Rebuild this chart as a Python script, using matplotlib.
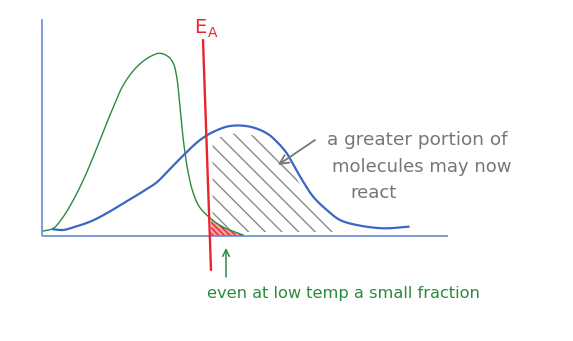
import numpy as np
import matplotlib
matplotlib.use("Agg")
import matplotlib.pyplot as plt

# ---- data (energy in arbitrary units, fraction of molecules in arbitrary units) ----
low_T_energy = [0.33, 2.83, 5.33, 7.83, 10.33, 12.83, 14.5, 17, 20.33, 23.67, 27,
                29.5, 31.58, 32.83, 33.67, 34.5, 35.33, 36.58, 37.83, 39.33, 42,
                45.25, 50.25]
low_T_fraction = [2.5, 3.85, 9.65, 18, 28, 39.65, 48, 60.5, 75.5, 84.5, 89.65,
                  91.35, 89.65, 86.35, 79.65, 64.65, 48, 31.35, 21.35, 14.65, 9,
                  4.5, 0.5]

high_T_energy = [2.83, 5.33, 7.83, 12, 16.17, 20.33, 24.5, 28.67, 31.17, 35.33, 39.5,
                 42.75, 47, 52, 56.2, 58.7, 61.2, 62.8, 65.3, 67.8, 71.2, 74.5,
                 78.7, 85.3, 91.6]
high_T_fraction = [3.35, 3, 4.35, 7.15, 11.35, 16.35, 21.35, 26.8, 31.8, 40.3, 48,
                   52, 55, 54.65, 51.35, 47.15, 41.35, 35.75, 27.15, 19.65, 13, 8,
                   5.5, 3.85, 4.65]

ea_line_x = [40.25, 42.25]
ea_line_y = [98, -17]
ea_label = "E"
ea_sub = "A"

axis_x_end = 101.5
axis_y_end = 108.5
hatch_end_energy = 76

note_high = ["a greater portion of", "molecules may now", "react"]
note_low = "even at low temp a small fraction"

GREEN = "#2B8A3E"
BLUE = "#3A66C4"
AXIS_BLUE = "#5A82CF"
RED = "#E8242C"
GRAY = "#767676"

# aspect: one x unit = 4 px, one y unit = 2 px -> smooth in pixel space
SX, SY = 4.0, 2.0


def smooth_curve(xs, ys, n=30, alpha=0.5):
    p = np.column_stack([np.asarray(xs, float) * SX, np.asarray(ys, float) * SY])
    p = np.vstack([2 * p[0] - p[1], p, 2 * p[-1] - p[-2]])
    out = []
    for i in range(1, len(p) - 2):
        p0, p1, p2, p3 = p[i - 1], p[i], p[i + 1], p[i + 2]
        t0 = 0.0
        t1 = t0 + np.linalg.norm(p1 - p0) ** alpha
        t2 = t1 + np.linalg.norm(p2 - p1) ** alpha
        t3 = t2 + np.linalg.norm(p3 - p2) ** alpha
        t = np.linspace(t1, t2, n, endpoint=False)[:, None]
        a1 = (t1 - t) / (t1 - t0) * p0 + (t - t0) / (t1 - t0) * p1
        a2 = (t2 - t) / (t2 - t1) * p1 + (t - t1) / (t2 - t1) * p2
        a3 = (t3 - t) / (t3 - t2) * p2 + (t - t2) / (t3 - t2) * p3
        b1 = (t2 - t) / (t2 - t0) * a1 + (t - t0) / (t2 - t0) * a2
        b2 = (t3 - t) / (t3 - t1) * a2 + (t - t1) / (t3 - t1) * a3
        c = (t2 - t) / (t2 - t1) * b1 + (t - t1) / (t2 - t1) * b2
        out.append(c)
    out.append(p[-2][None, :])
    s = np.vstack(out)
    return s[:, 0] / SX, s[:, 1] / SY


fig = plt.figure(figsize=(5.73, 3.41), dpi=100)
ax = fig.add_axes([0, 0, 1, 1])
ax.set_xlim(-10.5, 132.75)
ax.set_ylim(-52.5, 118)
ax.axis("off")

# axes of the sketch
ax.plot([0, 0], [0, axis_y_end], color=AXIS_BLUE, lw=1.1, solid_capstyle="butt")
ax.plot([0, axis_x_end], [0, 0], color=AXIS_BLUE, lw=1.1, solid_capstyle="butt")

gx, gy = smooth_curve(low_T_energy, low_T_fraction)
bx, by = smooth_curve(high_T_energy, high_T_fraction)

ea_at_zero = np.interp(0, ea_line_y[::-1], ea_line_x[::-1])

# gray hatching under high-T curve beyond EA
plt.rcParams["hatch.linewidth"] = 1.0
m = (bx >= ea_at_zero + 0.6) & (bx <= hatch_end_energy)
ax.fill_between(bx[m], 2.0, np.maximum(by[m] - 4, 2.0), facecolor="none",
                edgecolor="#8A8A8A", hatch="\\\\", linewidth=0)

# red hatching under low-T curve beyond EA
mg = gx >= ea_at_zero + 0.3
ax.fill_between(gx[mg], 0, gy[mg], facecolor="#F6A0A3", edgecolor=RED,
                hatch="\\\\\\\\\\\\", linewidth=0)

ax.plot(gx, gy, color=GREEN, lw=1.0)
ax.plot(bx, by, color=BLUE, lw=1.6)

# activation energy line
ax.plot(ea_line_x, ea_line_y, color=RED, lw=1.7, solid_capstyle="round")
ax.text(41.0, 101.5, ea_label, color=RED, fontsize=14, ha="right",
        va="baseline", family="DejaVu Sans")
ax.text(41.4, 99.5, ea_sub, color=RED, fontsize=10, ha="left",
        va="baseline", family="DejaVu Sans")

# notes
ax.annotate("", xy=(59, 35.5), xytext=(68.25, 48),
            arrowprops=dict(arrowstyle="->", color=GRAY, lw=1.3,
                            mutation_scale=16, shrinkA=0, shrinkB=0))
ax.text(71.25, 45.5, note_high[0], color=GRAY, fontsize=13.3, ha="left", va="baseline")
ax.text(72.5, 32, note_high[1], color=GRAY, fontsize=13.0, ha="left", va="baseline")
ax.text(77, 19, note_high[2], color=GRAY, fontsize=13.0, ha="left", va="baseline")

ax.annotate("", xy=(46, -6), xytext=(46, -20.5),
            arrowprops=dict(arrowstyle="->", color=GREEN, lw=1.1,
                            mutation_scale=12, shrinkA=0, shrinkB=0))
ax.text(41.25, -31, note_low, color=GREEN, fontsize=11.7, ha="left", va="baseline")

fig.savefig("out.png", dpi=100)
